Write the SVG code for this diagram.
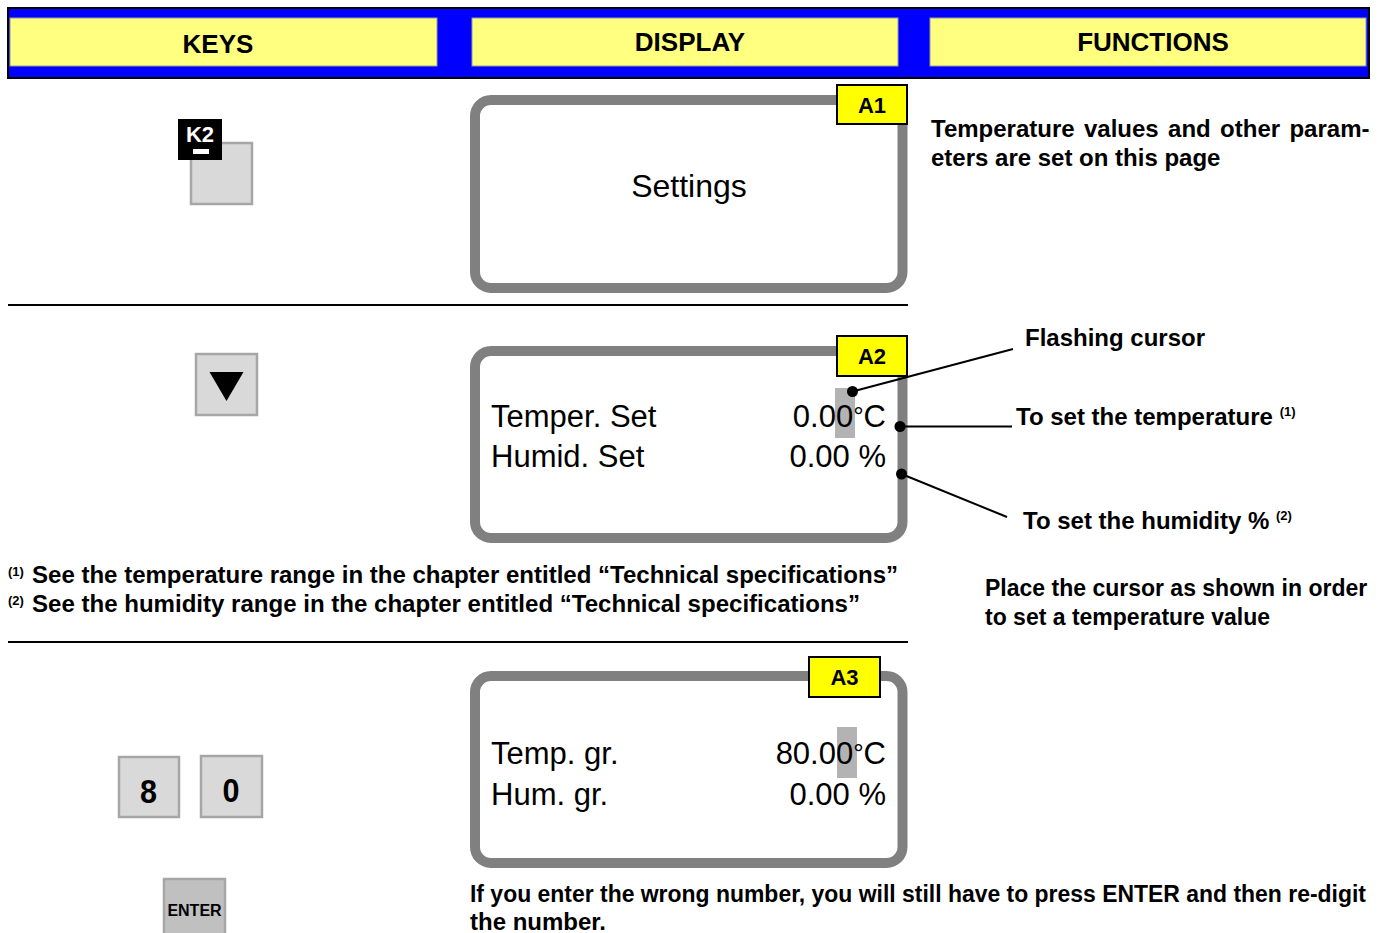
<svg xmlns="http://www.w3.org/2000/svg" width="1382" height="933" viewBox="0 0 1382 933">
  <style>
    text { font-family: "Liberation Sans", Arial, sans-serif; fill: #000; }
    .hdr { font-size: 26px; font-weight: bold; text-anchor: middle; }
    .cell { fill: #ffff80; stroke: #9a9a9a; stroke-width: 1; }
    .lcd { fill: #fff; stroke: #808080; stroke-width: 10; }
    .lcdtxt { font-size: 31px; }
    .right { text-anchor: end; }
    .tag { fill: #ffff00; stroke: #000; stroke-width: 2; }
    .tagtxt { font-size: 22px; font-weight: bold; text-anchor: middle; }
    .key { fill: #d9d9d9; stroke: #a6a6a6; stroke-width: 2.5; }
    .keytxt { font-size: 34px; font-weight: bold; text-anchor: middle; }
    .note { font-size: 24px; font-weight: bold; }
    .fn { font-size: 23px; font-weight: bold; }
    .sup { font-size: 13px; font-weight: bold; }
    .cursor { fill: #b3b3b3; }
    .sep { stroke: #000; stroke-width: 2; }
    .lead { stroke: #000; stroke-width: 2; fill: none; }
    .dot { fill: #000; }
  </style>

  <!-- table header -->
  <g id="header">
    <rect x="8" y="8" width="1361" height="70" fill="#0000ff" stroke="#000" stroke-width="2"/>
    <rect class="cell" x="10" y="18" width="427" height="48"/>
    <rect class="cell" x="472" y="18" width="426" height="48"/>
    <rect class="cell" x="930" y="18" width="436" height="48"/>
    <text class="hdr" x="218" y="53">KEYS</text>
    <text class="hdr" x="690" y="51">DISPLAY</text>
    <text class="hdr" x="1153" y="51">FUNCTIONS</text>
  </g>

  <!-- row separators -->
  <g id="separators">
    <line class="sep" x1="8" y1="305" x2="908" y2="305"/>
    <line class="sep" x1="8" y1="642" x2="908" y2="642"/>
  </g>

  <!-- row 1 -->
  <g id="key-k2">
    <rect class="key" x="191" y="143" width="61" height="61"/>
    <rect x="178" y="119" width="44" height="41" fill="#000"/>
    <text x="200" y="142" font-size="22" font-weight="bold" text-anchor="middle" style="fill:#fff">K2</text>
    <rect x="193" y="149" width="16" height="5" fill="#fff"/>
  </g>

  <g id="display-a1">
    <rect class="lcd" x="475" y="100" width="427.5" height="188" rx="16" ry="16"/>
    <text x="689" y="197" font-size="32" text-anchor="middle">Settings</text>
    <rect class="tag" x="837" y="85" width="70" height="39"/>
    <text class="tagtxt" x="872" y="113">A1</text>
  </g>

  <g id="func-1">
    <text class="note" x="931" y="137" word-spacing="2.7">Temperature values and other param-</text>
    <text class="note" x="931" y="166">eters are set on this page</text>
  </g>

  <!-- row 2 -->
  <g id="key-down">
    <rect class="key" x="196" y="354" width="61" height="61"/>
    <polygon points="209.5,372 243.5,372 226.5,401" fill="#000"/>
  </g>

  <g id="display-a2">
    <rect class="lcd" x="475" y="351" width="427.5" height="187" rx="16" ry="16"/>
    <rect class="cursor" x="835" y="388" width="20" height="50"/>
    <text class="lcdtxt" x="491" y="427">Temper. Set</text>
    <text class="lcdtxt" x="491" y="467">Humid. Set</text>
    <text class="lcdtxt right" x="886" y="427">0.00<tspan font-size="26" dy="-2">°</tspan><tspan dy="2">C</tspan></text>
    <text class="lcdtxt right" x="886" y="467">0.00 %</text>
    <rect class="tag" x="837" y="336" width="70" height="40"/>
    <text class="tagtxt" x="872" y="364">A2</text>
  </g>

  <g id="connectors">
    <line class="lead" x1="852.5" y1="391.5" x2="1013" y2="349"/>
    <line class="lead" x1="900" y1="426.5" x2="1012" y2="426.5"/>
    <line class="lead" x1="901.5" y1="474" x2="1007" y2="517"/>
    <circle class="dot" cx="852.5" cy="391.5" r="5.5"/>
    <circle class="dot" cx="900" cy="426.5" r="5.5"/>
    <circle class="dot" cx="901.5" cy="474" r="5.5"/>
  </g>

  <g id="label-cursor">
    <text class="note" x="1025" y="346">Flashing cursor</text>
  </g>
  <g id="label-temp">
    <text class="note" x="1016" y="425">To set the temperature <tspan class="sup" dy="-9">(1)</tspan></text>
  </g>
  <g id="label-hum">
    <text class="note" x="1023" y="529">To set the humidity % <tspan class="sup" dy="-9">(2)</tspan></text>
  </g>

  <g id="footnotes">
    <text class="sup" x="8" y="576">(1)</text>
    <text class="fn" x="32" y="583" textLength="866" lengthAdjust="spacingAndGlyphs">See the temperature range in the chapter entitled “Technical specifications”</text>
    <text class="sup" x="8" y="605">(2)</text>
    <text class="fn" x="32" y="612" textLength="828" lengthAdjust="spacingAndGlyphs">See the humidity range in the chapter entitled “Technical specifications”</text>
  </g>

  <g id="func-2">
    <text class="fn" x="985" y="596">Place the cursor as shown in order</text>
    <text class="fn" x="985" y="625">to set a temperature value</text>
  </g>

  <!-- row 3 -->
  <g id="key-8">
    <rect class="key" x="119" y="757" width="60" height="60"/>
    <text class="keytxt" x="148.5" y="803" textLength="17" lengthAdjust="spacingAndGlyphs">8</text>
  </g>
  <g id="key-0">
    <rect class="key" x="201" y="756" width="61" height="61"/>
    <text class="keytxt" x="231" y="802" textLength="17" lengthAdjust="spacingAndGlyphs">0</text>
  </g>
  <g id="key-enter">
    <rect x="164" y="879" width="61" height="60" fill="#c0c0c0" stroke="#a6a6a6" stroke-width="2.5"/>
    <text x="194.5" y="916" font-size="16" font-weight="bold" text-anchor="middle">ENTER</text>
  </g>

  <g id="display-a3">
    <rect class="lcd" x="475" y="676" width="427.5" height="187" rx="16" ry="16"/>
    <rect class="cursor" x="837" y="727" width="20" height="51"/>
    <text class="lcdtxt" x="491" y="764">Temp. gr.</text>
    <text class="lcdtxt" x="491" y="805">Hum. gr.</text>
    <text class="lcdtxt right" x="886" y="764">80.00<tspan font-size="26" dy="-2">°</tspan><tspan dy="2">C</tspan></text>
    <text class="lcdtxt right" x="886" y="805">0.00 %</text>
    <rect class="tag" x="809" y="657" width="71" height="40"/>
    <text class="tagtxt" x="844.5" y="685">A3</text>
  </g>

  <!-- first line is set condensed to fit the column -->
  <g id="func-3">
    <text class="note" x="470" y="902" font-size="22" style="font-size:22px" transform="translate(470 902) scale(1 1.09) translate(-470 -902)" textLength="896" lengthAdjust="spacingAndGlyphs">If you enter the wrong number, you will still have to press ENTER and then re-digit</text>
    <text class="note" x="470" y="930">the number.</text>
  </g>
</svg>
